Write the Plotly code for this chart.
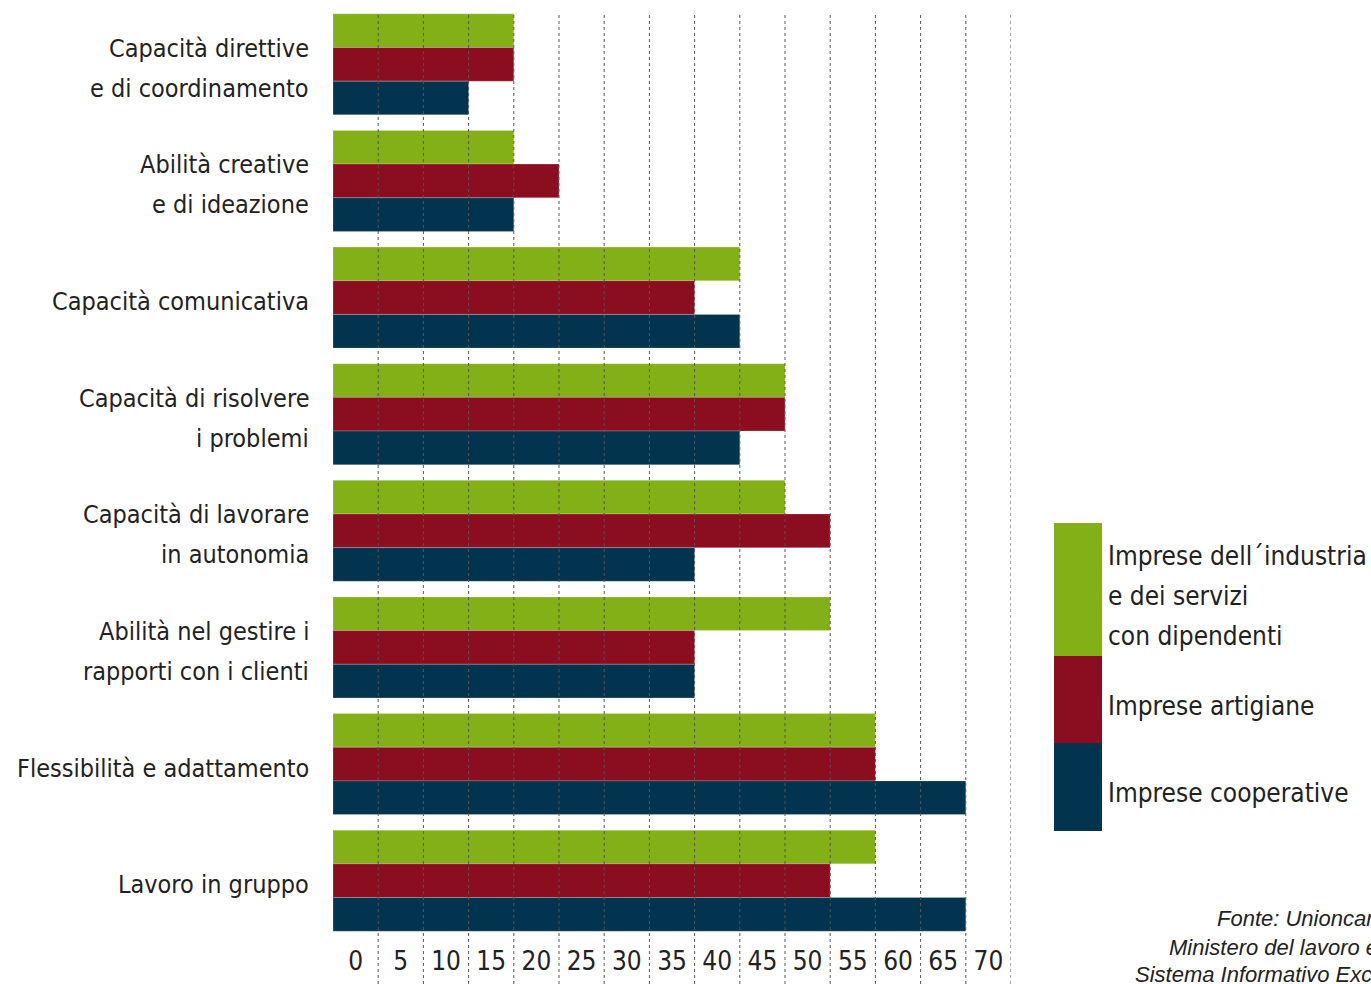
import plotly.graph_objects as go

# Competenze richieste, quota percentuale per tipologia di impresa
categories = [
    "Capacità direttive<br>e di coordinamento",
    "Abilità creative<br>e di ideazione",
    "Capacità comunicativa",
    "Capacità di risolvere<br>i problemi",
    "Capacità di lavorare<br>in autonomia",
    "Abilità nel gestire i<br>rapporti con i clienti",
    "Flessibilità e adattamento",
    "Lavoro in gruppo",
]
industria_servizi = [20, 20, 45, 50, 50, 55, 60, 60]
artigiane = [20, 25, 40, 50, 55, 40, 60, 55]
cooperative = [15, 20, 45, 45, 40, 40, 70, 70]

series_names = [
    "Imprese dell´industria<br>e dei servizi<br>con dipendenti",
    "Imprese artigiane",
    "Imprese cooperative",
]
series_values = [industria_servizi, artigiane, cooperative]
series_colors = ["#84B017", "#8B0D20", "#03344F"]

tick_values = [0, 5, 10, 15, 20, 25, 30, 35, 40, 45, 50, 55, 60, 65, 70]
grid_values = [5, 10, 15, 20, 25, 30, 35, 40, 45, 50, 55, 60, 65, 70, 75]

source_lines = ["Fonte: Unioncamere -", "Ministero del lavoro e", "Sistema Informativo Excelsior"]

W, H = 1371, 984
ML, MR, MT, MB = 333, 360, 6, 45
PW, PH = W - ML - MR, H - MT - MB

FONT = "DejaVu Sans Condensed, Liberation Sans Narrow, sans-serif"
TXT = "#222222"
LINE_GAP = 40  # vertical distance between wrapped label lines


def px_x(x):
    return (x - ML) / PW


def px_y(y):
    return (H - MB - y) / PH


def label_font(size):
    return dict(family=FONT, size=size, color=TXT)


fig = go.Figure()
for name, vals, col in zip(series_names, series_values, series_colors):
    fig.add_trace(go.Bar(
        y=categories, x=vals, orientation="h", name=name,
        marker=dict(color=col, line=dict(width=0.6, color="rgba(255,255,255,0.35)")),
        showlegend=False,
    ))

# category labels, one annotation per wrapped line for wider line spacing
for cat in categories:
    lines = cat.split("<br>")
    n = len(lines)
    for i, line in enumerate(lines):
        shift = -((i - (n - 1) / 2) * LINE_GAP) - 4
        fig.add_annotation(xref="paper", yref="y", x=px_x(311), y=cat, yshift=shift,
                           text=line, showarrow=False, xanchor="right", yanchor="middle",
                           font=label_font(25))

# dotted vertical grid, drawn over the bars and down through the tick labels
for g in grid_values:
    fig.add_shape(type="line", xref="x", yref="paper", x0=g, x1=g,
                  y0=px_y(H), y1=px_y(14), layer="above",
                  line=dict(color="#555555", width=1, dash="dot"))

# legend: stacked colour blocks with labels
legend_blocks = [(523, 656), (656, 743), (743, 831)]
legend_text_y = [596, 706, 793]
for (y0, y1), ty, name, col in zip(legend_blocks, legend_text_y, series_names, series_colors):
    fig.add_shape(type="rect", xref="paper", yref="paper",
                  x0=px_x(1054), x1=px_x(1102), y0=px_y(y1), y1=px_y(y0),
                  fillcolor=col, line=dict(width=0), layer="above")
    lines = name.split("<br>")
    n = len(lines)
    for i, line in enumerate(lines):
        ly = ty + (i - (n - 1) / 2) * LINE_GAP
        fig.add_annotation(xref="paper", yref="paper", x=px_x(1106), y=px_y(ly),
                           text=line, showarrow=False, xanchor="left", yanchor="middle",
                           font=label_font(26))

# source note
source_x = [1215, 1167, 1133]
source_y = [918, 947, 974]
for sx, sy, line in zip(source_x, source_y, source_lines):
    fig.add_annotation(xref="paper", yref="paper", x=px_x(sx), y=px_y(sy),
                       text=line, showarrow=False, xanchor="left", yanchor="middle",
                       font=dict(family="Liberation Sans, Arial, sans-serif", size=22,
                                 color=TXT, style="italic"))

fig.update_layout(
    width=W, height=H,
    margin=dict(l=ML, r=MR, t=MT, b=MB, autoexpand=False),
    paper_bgcolor="white", plot_bgcolor="white",
    barmode="group", bargap=0.134, bargroupgap=0,
    xaxis=dict(range=[0, 75], showgrid=False, zeroline=False, showline=False,
               tickmode="array", tickvals=[v + 2.5 for v in tick_values],
               ticktext=[str(v) for v in tick_values], ticks="",
               ticklabelstandoff=4,
               tickfont=label_font(26)),
    yaxis=dict(autorange="reversed", showgrid=False, zeroline=False, showline=False,
               ticks="", showticklabels=False),
)

fig.write_html("out.html")
